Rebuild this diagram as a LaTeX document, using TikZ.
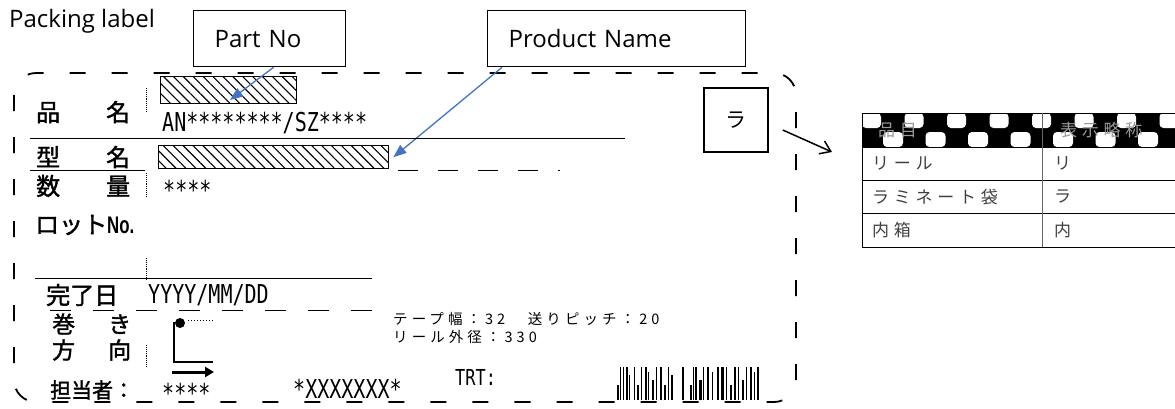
\documentclass[tikz,border=0pt]{standalone}
\usepackage{fontspec}
\setmainfont{Open Sans}
\newfontfamily\jp{Noto Sans CJK JP}
\newfontfamily\jpb[FakeBold=1.6]{Noto Sans CJK JP}
\newfontfamily\jpsp[LetterSpace=28]{Noto Sans CJK JP}
\newfontfamily\mono[FakeStretch=0.77]{DejaVu Sans Mono}
\newfontfamily\nar[FakeStretch=0.7]{Liberation Sans}
\usetikzlibrary{patterns.meta,arrows.meta}
\definecolor{callblue}{RGB}{68,114,196}

\begin{document}
\begin{tikzpicture}[x=1pt,y=-1pt,
	call node/.style = {draw, line width=1.3pt, anchor=north west, align=left, inner xsep=21pt, minimum height=56pt, font=\fontsize{24}{28}\selectfont},
	call arrow/.style = {callblue, line width=1.3pt, -{Triangle[length=13pt,width=10pt]}},
	hatch node/.style = {draw, line width=1.4pt, anchor=north west, inner sep=0pt, pattern={Lines[angle=-45,distance=7pt,line width=1.1pt]}},
	head node/.style = {anchor=west, inner sep=0pt, font=\jpb\fontsize{24}{24}\selectfont},
	code node/.style = {anchor=west, inner sep=0pt, font=\mono\fontsize{26}{26}\selectfont},
	cell node/.style = {anchor=west, inner sep=0pt, text=black!75, font=\jpsp\fontsize{17}{17}\selectfont},
	sep line/.style = {line width=0.9pt, densely dotted}]
	\useasboundingbox (0,0) rectangle (1175,408);

	% callouts
	\node[anchor=west, inner sep=0pt, font=\fontsize{24}{28}\selectfont] (title) at (9,21) {Packing label};
	\node[call node, text width=110pt] (pn) at (193,10) {Part No};
	\node[call node, text width=216pt] (pm) at (487,10) {Product Name};

	% label outline
	\draw[line width=1.8pt, dash pattern=on 16pt off 26pt, rounded corners=22pt] (14,73) rectangle (796,402);
	\node[hatch node, minimum width=136pt, minimum height=27pt] (hb1) at (160,76) {};
	\node[hatch node, minimum width=230pt, minimum height=23pt] (hb2) at (158,145) {};
	\coordinate (pnTip) at (230,100);
	\draw[call arrow] ([xshift=4pt]pn.south) -- (pnTip);
	\draw[call arrow] ([xshift=15pt]pm.south west) -- ([xshift=4pt]hb2.east);

	\draw[line width=1pt] (30,138) -- (625,138);
	\draw[line width=1pt] (30,170) -- (145,170);
	\draw[line width=1pt, dash pattern=on 20pt off 20pt] (398,170) -- (560,170);
	\draw[line width=1pt] (35,278) -- (372,278);
	\draw[line width=1pt, dash pattern=on 21pt off 22pt] (50,310) -- (372,310);
	\foreach \a/\b in {88/112, 173/197, 258/280, 345/367}
		\draw[sep line] (146,\a) -- (146,\b);

	% field names
	\node[head node] (hinmei) at (36,112) {品\hspace{46pt}名};
	\node[head node] (katamei) at (36,157) {型\hspace{46pt}名};
	\node[head node] (suryo) at (36,186) {数\hspace{46pt}量};
	\node[head node] (lot) at (35,225) {ロット{\nar\bfseries No.}};
	\node[head node] (kanryo) at (46,295) {完了日};
	\node[head node, font=\jpb\fontsize{23}{23}\selectfont] (maki) at (52,324) {巻\hspace{33pt}き};
	\node[head node, font=\jpb\fontsize{23}{23}\selectfont] (hoko) at (52,350) {方\hspace{33pt}向};
	\node[head node, font=\jpb\fontsize{21}{21}\selectfont] (tanto) at (50,390) {担当者：};

	% field values
	\node[code node] (pno) at (162,123) {AN********/SZ****};
	\node[code node] (qty) at (163,190) {****};
	\node[code node] (date) at (148,295) {YYYY/MM/DD};
	\node[code node] (staff) at (162,393) {****};
	\node[code node] (serial) at (293,389) {*XXXXXXX*};
	\node[code node, font=\mono\fontsize{22}{22}\selectfont] (trt) at (455,377) {TRT:};
	\node[cell node, text=black, anchor=north west, align=left, font=\jpsp\fontsize{14.5}{18}\selectfont] (tape) at (393,312) {テープ幅：32　送りピッチ：20\\リール外径：330};

	% winding direction
	\fill (180,323) circle (5pt);
	\draw[line width=2pt] (174,322) -- (174,362) -- (213,362);
	\draw[dotted, line width=1pt] (188,320) -- (213,320);
	\draw[line width=3pt, -{Triangle[length=9pt,width=10pt]}] (172,372) -- (214,372);

	% barcode
	\foreach \x/\w/\t in {617/2/385, 619.5/1.2/367, 623/1/367, 626/1.5/367, 629/1/375, 634/1.2/367, 637/2/385, 641/1/367, 645/1.5/367, 648/1/372, 652/2/380, 656/1/367, 660/1.5/367, 664/2/385, 668/1/367, 671/1.5/375, 682/1.5/367, 690/2/385, 692.5/1/367, 695/1.5/367, 699/2.5/380, 703/1/367, 707/1.5/367, 712/1/372, 717/1.5/367, 721/2.5/367, 726/1/367, 730/2/385, 734/1.5/367, 738/1/367, 742/2/380, 746/1/367, 750/1.5/367, 754/1/372, 757/1.5/367}
		\fill (\x,\t) rectangle (\x+\w,400);

	% mark and legend table
	\node[draw, line width=1.5pt, minimum size=64pt, font=\jp\fontsize{21}{21}\selectfont] (ra) at (736,120) {ラ};
	\coordinate (tblTip) at (832,152);
	\draw[line width=1.5pt, -{Straight Barb[length=10pt,width=14pt]}] ([shift={(14,10)}]ra.east) -- (tblTip);

	\fill (862,113) rectangle (1175,147);
	\foreach \i in {0,...,7}
		\fill[white, rounded corners=4pt] ({862+42.5*\i},113) rectangle +(19,15);
	\foreach \i in {0,...,6}
		\fill[white, rounded corners=4pt] ({883+42.5*\i},132) rectangle +(20,15);
	\node[cell node, text=black!40] (h1) at (878,130) {品目};
	\node[cell node, text=black!40] (h2) at (1060,130) {表示略称};
	\draw[line width=1pt] (1175,113) -- (862,113) -- (862,247) -- (1175,247);
	\foreach \y in {147,180,213}
		\draw[line width=1pt] (862,\y) -- (1175,\y);
	\draw[line width=1pt, black!60] (1042,113) -- (1042,247);

	\node[cell node] (r1) at (872,163.5) {リール};
	\node[cell node] (s1) at (1054,163.5) {リ};
	\node[cell node] (r2) at (872,197) {ラミネート袋};
	\node[cell node] (s2) at (1054,197) {ラ};
	\node[cell node] (r3) at (872,230) {内箱};
	\node[cell node] (s3) at (1054,230) {内};
\end{tikzpicture}
\end{document}
